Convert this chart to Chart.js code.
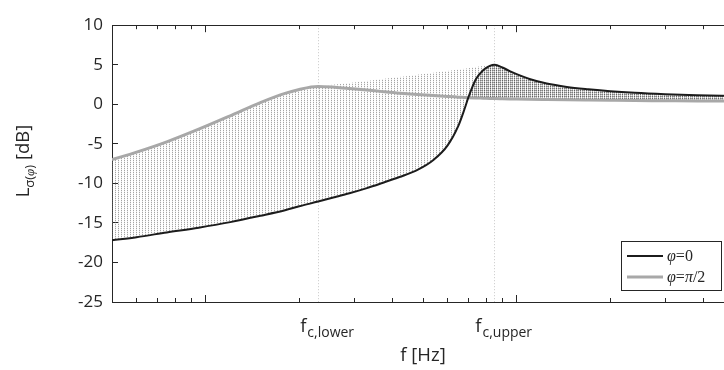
<!DOCTYPE html>
<html>
<head>
<meta charset="utf-8">
<script src="https://cdn.jsdelivr.net/npm/chart.js@4.4.0/dist/chart.umd.min.js"></script>
<style>
  html, body { margin: 0; padding: 0; background: #fff; overflow: hidden; width: 724px; height: 370px; }
  #wrap { position: relative; width: 744px; height: 370px; }
  canvas { display: block; }
</style>
</head>
<body>
<div id="wrap"><canvas id="c" width="744" height="370"></canvas></div>
<script>
// Frequency grid [Hz] shared by every curve
const freq = [50, 60, 75, 95, 120, 150, 180, 200, 230, 260, 290, 330, 370, 420, 480, 540, 600, 650, 680, 700,
              740, 780, 820, 850, 900, 950, 1000, 1100, 1250, 1450, 1700, 2000, 2400, 3000, 3800, 5000];

// Level for phi = 0 [dB]
const levelPhi0 = [-17.2, -16.8, -16.2, -15.6, -14.9, -14.1, -13.4, -12.9, -12.3, -11.75, -11.25, -10.6, -9.95, -9.2, -8.3, -7.05, -5.2, -2.7, -0.6, 0.9,
                   3.2, 4.3, 4.85, 5.0, 4.65, 4.2, 3.82, 3.2, 2.62, 2.2, 1.9, 1.65, 1.45, 1.28, 1.15, 1.05];

// Level for phi = pi/2 [dB]
const levelPhiHalfPi = [-7.0, -6.05, -4.75, -3.15, -1.45, 0.22, 1.38, 1.88, 2.25, 2.15, 2.0, 1.8, 1.6, 1.4, 1.25, 1.1, 0.98, 0.9, 0.87, 0.84,
                        0.8, 0.77, 0.74, 0.72, 0.7, 0.68, 0.66, 0.63, 0.6, 0.57, 0.54, 0.51, 0.48, 0.45, 0.42, 0.4];

// Upper and lower edge of the family of intermediate angles [dB]
const bandTop = [-7.0, -6.05, -4.75, -3.15, -1.45, 0.22, 1.38, 1.88, 2.25, 2.5, 2.7, 2.95, 3.2, 3.45, 3.75, 4.0, 4.2, 4.4, 4.5, 4.55,
                 4.7, 4.85, 4.95, 5.0, 4.65, 4.2, 3.82, 3.2, 2.62, 2.2, 1.9, 1.65, 1.45, 1.28, 1.15, 1.05];
const bandBottom = [-17.2, -16.8, -16.2, -15.6, -14.9, -14.1, -13.4, -12.9, -12.3, -11.75, -11.25, -10.6, -9.95, -9.2, -8.3, -7.05, -5.2, -2.7, -0.6, 0.84,
                    0.8, 0.77, 0.74, 0.72, 0.7, 0.68, 0.66, 0.63, 0.6, 0.57, 0.54, 0.51, 0.48, 0.45, 0.42, 0.4];

// Axis ticks
const yTicks = [-25, -20, -15, -10, -5, 0, 5, 10];
const xMinorTicks = [50, 60, 70, 80, 90, 200, 300, 400, 500, 600, 700, 800, 900, 2000, 3000, 4000, 5000];
const xMajorTicks = [100, 1000];

// Cut-off frequencies [Hz] and their labels
const fcLower = 230;
const fcUpper = 850;
const fcSubscripts = ['c,lower', 'c,upper'];

const SANS = '"Open Sans", "Noto Sans", sans-serif';
const SERIF = '"Liberation Serif", "DejaVu Serif", serif';
const INK = '#262626';

const canvas = document.getElementById('c');
const ctx0 = canvas.getContext('2d');

// Dotted hatch textures for the band of intermediate angles
function makeHatch(w, h, dots) {
  const p = document.createElement('canvas');
  p.width = w; p.height = h;
  const g = p.getContext('2d');
  dots.forEach(([x, y, col]) => { g.fillStyle = col; g.fillRect(x, y, 1, 1); });
  return ctx0.createPattern(p, 'repeat');
}
const lightHatch = makeHatch(3, 2, [[1, 0, 'rgba(110,110,110,0.62)'], [1, 1, 'rgba(170,170,170,0.22)']]);
const denseHatch = makeHatch(2, 2, [[0, 0, 'rgba(70,70,70,0.7)'], [0, 1, 'rgba(110,110,110,0.45)'], [1, 0, 'rgba(150,150,150,0.25)']]);

const pts = arr => freq.map((f, i) => ({ x: f, y: arr[i] }));
const isFc = v => v === fcLower || v === fcUpper;

// Draw a string where Greek letters are set in italic serif, the rest upright
function drawMath(ctx, text, x, y, size) {
  let cx = x;
  for (const ch of text) {
    const greek = /[\u0370-\u03ff]/.test(ch);
    ctx.font = (greek ? 'italic ' : '') + size + 'px ' + SERIF;
    ctx.fillText(ch, cx, y);
    cx += ctx.measureText(ch).width;
  }
  return cx - x;
}

const annotations = {
  id: 'annotations',
  afterDraw(chart) {
    const ctx = chart.ctx;
    const xs = chart.scales.x;
    ctx.save();
    ctx.fillStyle = INK;
    ctx.textBaseline = 'alphabetic';
    ctx.textAlign = 'left';

    // Cut-off frequency labels under the axis
    [fcLower, fcUpper].forEach((v, i) => {
      const px = xs.getPixelForValue(v);
      ctx.font = '18.5px ' + SANS;
      const wMain = ctx.measureText('f').width;
      ctx.font = '14px ' + SANS;
      const wSub = ctx.measureText(fcSubscripts[i]).width;
      const x0 = px + 9 - (wMain + 1 + wSub) / 2;
      ctx.font = '18.5px ' + SANS;
      ctx.fillText('f', x0, 332);
      ctx.font = '14px ' + SANS;
      ctx.fillText(fcSubscripts[i], x0 + wMain + 1, 337);
    });

    // Rotated y-axis title with subscript
    const segs = [
      { t: 'L', font: '18.5px ' + SANS, dy: 0 },
      { t: '\u03c3(', font: '13px ' + SANS, dy: 5 },
      { t: '\u03c6', font: 'italic 13px ' + SERIF, dy: 5 },
      { t: ')', font: '13px ' + SANS, dy: 5 },
      { t: ' [dB]', font: '18.5px ' + SANS, dy: 0 }
    ];
    let total = 0;
    segs.forEach(s => { ctx.font = s.font; s.w = ctx.measureText(s.t).width; total += s.w; });
    ctx.translate(22, 161);
    ctx.rotate(-Math.PI / 2);
    let cx = -total / 2;
    segs.forEach(s => { ctx.font = s.font; ctx.fillText(s.t, cx, 7 + s.dy); cx += s.w; });
    ctx.setTransform(1, 0, 0, 1, 0, 0);

    // Legend box
    const bx = 621.5, by = 241.5, bw = 100, bh = 49;
    ctx.fillStyle = '#ffffff';
    ctx.fillRect(bx, by, bw, bh);
    ctx.strokeStyle = INK;
    ctx.lineWidth = 1;
    ctx.strokeRect(bx, by, bw, bh);
    const rows = [chart.data.datasets[0], chart.data.datasets[1]];
    rows.forEach((ds, i) => {
      const ry = 256 + i * 21;
      ctx.strokeStyle = ds.borderColor;
      ctx.lineWidth = ds.borderWidth;
      ctx.beginPath();
      ctx.moveTo(627, ry);
      ctx.lineTo(663, ry);
      ctx.stroke();
      ctx.fillStyle = INK;
      drawMath(ctx, ds.label, 667, ry + 5, 16);
    });
    ctx.restore();
  }
};

const logAxis = (position, weight, ticks, tickLength, height, extra) => Object.assign({
  type: 'logarithmic',
  position, weight,
  min: 50, max: 5000,
  afterBuildTicks: s => { s.ticks = ticks.map(v => ({ value: v })); },
  afterFit: s => { s.height = height; },
  ticks: { callback: () => '', autoSkip: false, maxRotation: 0, minRotation: 0, padding: 0 },
  grid: { drawOnChartArea: false, tickLength, tickColor: INK, tickWidth: 1 },
  border: { display: false }
}, extra || {});

new Chart(canvas, {
  type: 'line',
  data: {
    datasets: [
      { label: '\u03c6=0', data: pts(levelPhi0), borderColor: '#1c1c1c', borderWidth: 2,
        pointRadius: 0, cubicInterpolationMode: 'monotone', order: 0,
        fill: { target: 1, above: denseHatch, below: 'rgba(0,0,0,0)' } },
      { label: '\u03c6=\u03c0/2', data: pts(levelPhiHalfPi), borderColor: '#a8a8a8', borderWidth: 3,
        pointRadius: 0, cubicInterpolationMode: 'monotone', fill: false, order: 1 },
      { label: 'band top', data: pts(bandTop), borderColor: 'rgba(0,0,0,0)', borderWidth: 0,
        pointRadius: 0, cubicInterpolationMode: 'monotone', fill: false, order: 3 },
      { label: 'band bottom', data: pts(bandBottom), borderColor: 'rgba(0,0,0,0)', borderWidth: 0,
        pointRadius: 0, cubicInterpolationMode: 'monotone', fill: '-1', backgroundColor: lightHatch, order: 2 }
    ]
  },
  options: {
    responsive: false,
    devicePixelRatio: 1,
    animation: false,
    events: [],
    layout: { padding: { left: 0, right: 10, top: 0, bottom: 0 } },
    plugins: { legend: { display: false }, tooltip: { enabled: false }, filler: { drawTime: 'beforeDatasetsDraw' } },
    scales: {
      x: {
        type: 'logarithmic', position: 'bottom', weight: 1,
        min: 50, max: 5000,
        afterBuildTicks: s => {
          s.ticks = xMinorTicks.concat([fcLower, fcUpper]).sort((a, b) => a - b).map(v => ({ value: v }));
        },
        afterFit: s => { s.height = 68; },
        ticks: { callback: () => '', autoSkip: false, maxRotation: 0, minRotation: 0, padding: 0 },
        grid: {
          color: c => (c.tick && isFc(c.tick.value)) ? '#c8c8c8' : 'rgba(0,0,0,0)',
          tickColor: c => (c.tick && isFc(c.tick.value)) ? 'rgba(0,0,0,0)' : INK,
          tickLength: -4, lineWidth: 1, tickWidth: 1
        },
        border: { display: true, color: INK, width: 1, dash: [1, 2] },
        title: { display: true, text: 'f [Hz]', color: INK, font: { family: SANS, size: 18.5 }, padding: { top: 0, bottom: 3 } }
      },
      xMajor: logAxis('bottom', 0, xMajorTicks, -7, 0),
      xTop: logAxis('top', 1, xMinorTicks, -4, 18, { border: { display: true, color: INK, width: 1 } }),
      xTopMajor: logAxis('top', 0, xMajorTicks, -7, 0),
      y: {
        type: 'linear', position: 'left',
        min: -25, max: 10,
        afterBuildTicks: s => { s.ticks = yTicks.map(v => ({ value: v })); },
        afterFit: s => { s.width = 112; },
        ticks: { color: INK, font: { family: SANS, size: 17 }, padding: 15, callback: v => String(v) },
        grid: { drawOnChartArea: false, tickLength: -6, tickColor: INK, tickWidth: 1 },
        border: { display: true, color: INK, width: 1 }
      }
    }
  },
  plugins: [annotations]
});
</script>
</body>
</html>
